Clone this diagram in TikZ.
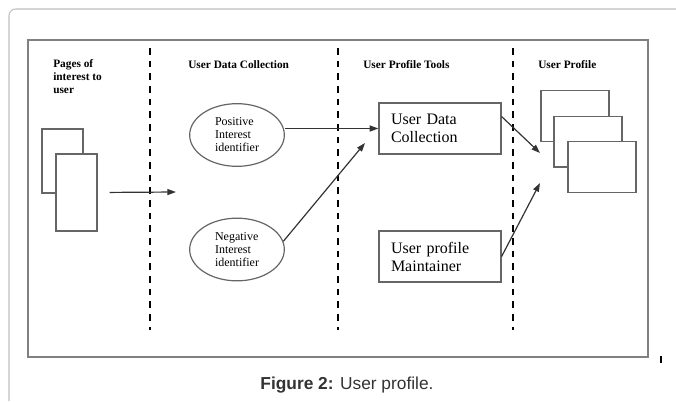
\documentclass[tikz,border=0pt]{standalone}
\usepackage{fontspec}
\setmainfont{Liberation Serif}
\newfontfamily\captionfont{Liberation Sans}
\usetikzlibrary{positioning, arrows.meta, shapes.geometric}

\begin{document}
\begin{tikzpicture}[
        x=0.75pt, y=-0.75pt,
        >={Triangle[length=6.5pt,width=4.5pt]},
        flow/.style={->, line width=0.9pt, black!80},
        divider/.style={line width=1.6pt, dash pattern=on 5pt off 4.5pt},
        heading/.style={font=\fontsize{8.5}{9.75}\selectfont\bfseries, inner sep=0pt, align=left},
        sheet/.style={draw=black!60, line width=1pt, fill=white, inner sep=0pt},
        interest/.style={ellipse, draw=black!60, line width=0.9pt, minimum width=71pt, minimum height=47pt,
            inner sep=0pt, align=left, font=\fontsize{9}{9.75}\selectfont},
        tool/.style={draw=black!60, line width=0.9pt, text width=73.5pt, inner xsep=9pt, inner ysep=0pt,
            minimum height=38.25pt, align=left, font=\fontsize{12}{13.5}\selectfont},
    ]
        \useasboundingbox (0,0) rectangle (676,401);

        % Draw the outer frame and the inner frame
        \draw[black!25, line width=0.8pt, rounded corners=5pt] (676,9) -- (9,9) -- (9,401);
        \draw[black!50, line width=1.2pt] (28,40) rectangle (648,357);
        \draw[line width=1.2pt] (661,356) -- (661,363);

        % Draw the column dividers
        \foreach \x in {150,338,513}
            \draw[divider] (\x,48) -- (\x,330);

        % Draw the column headings
        \node[heading, anchor=north west] (h-pages) at (53,59) {Pages of\\interest to\\user};
        \node[heading, anchor=base west] (h-collect) at (188,68) {User Data Collection};
        \node[heading, anchor=base west] (h-tools) at (363,68) {User Profile Tools};
        \node[heading, anchor=base west] (h-profile) at (538,68) {User Profile};

        % Draw the pages of interest
        \node[sheet, minimum width=30.75pt, minimum height=48pt] (page-1) at (62.5,161) {};
        \node[sheet, minimum width=30.75pt, minimum height=57.75pt] (page-2) at (76.5,192.5) {};

        % Draw the interest identifiers
        \node[interest] (pos) at (237,135) {Positive\\Interest\\identifier};
        \node[interest] (neg) at (237,249.5) {Negative\\Interest\\identifier};

        % Draw the profile tools
        \node[tool] (udc) at (440,128.5) {User Data\\Collection};
        \node[tool] (upm) at (440,256.5) {User profile\\Maintainer};

        % Draw the user profile sheets
        \foreach \name / \x / \y in {1/575/116, 2/588/141.5, 3/602/167}
            \node[sheet, minimum width=51pt, minimum height=38pt] (prof-\name) at (\x,\y) {};

        % Free ends of the arrows
        \coordinate (collect-in) at (176,192);
        \coordinate (udc-in) at (365,143);
        \coordinate (prof-in-1) at (540,153);
        \coordinate (prof-in-2) at (540,183);

        % Connect the columns
        \draw[flow, shorten <=9pt] (page-2.east) -- (collect-in);
        \draw[flow] (pos.east |- udc.west) -- (udc.west);
        \draw[flow] (neg.10) -- (udc-in);
        \draw[flow] (udc.11) -- (prof-in-1);
        \draw[flow] (upm.east) -- (prof-in-2);

        % Caption
        \node[font=\captionfont\fontsize{13}{15}\selectfont, text=black!80] (caption) at (347,385)
            {\textbf{Figure 2:} User profile.};
\end{tikzpicture}
\end{document}
